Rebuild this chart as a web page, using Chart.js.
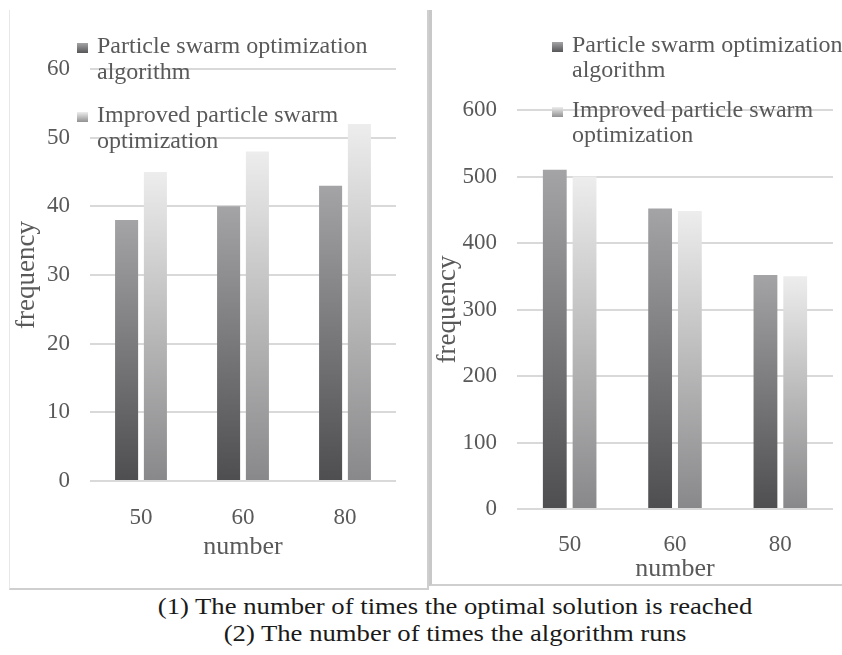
<!DOCTYPE html>
<html>
<head>
<meta charset="utf-8">
<script src="https://cdn.jsdelivr.net/npm/chart.js@4.4.1/dist/chart.umd.min.js"></script>
<style>
  body { margin: 0; background: #fff; width: 842px; height: 655px; position: relative; overflow: hidden; }
  .panel { position: absolute; box-sizing: border-box; }
  #panelL { left: 9px; top: 10px; width: 420px; height: 580px; border-left: 1px solid #e8e8e8; border-right: 2px solid #cfcfcf; border-bottom: 2px solid #cfcfcf; }
  #panelR { left: 429px; top: 10px; width: 420px; height: 576px; border-left: 3px solid #c8c8c8; border-bottom: 2px solid #cfcfcf; }
  canvas { position: absolute; }
  #chartL { left: 11px; top: 11px; }
  #chartR { left: 432px; top: 11px; }
  .caption { position: absolute; left: 0; width: 910px; text-align: center; font-family: "Liberation Serif", "Times New Roman", serif; font-size: 23px; color: #1a1a1a; transform: scaleX(1.16); transform-origin: 455px 0; white-space: nowrap; }
</style>
</head>
<body>
<div class="panel" id="panelL"></div>
<div class="panel" id="panelR"></div>
<canvas id="chartL" width="415" height="576"></canvas>
<canvas id="chartR" width="410" height="574"></canvas>
<div class="caption" style="top:594px">(1) The number of times the optimal solution is reached</div>
<div class="caption" style="top:621px">(2) The number of times the algorithm runs</div>
<script>
// data
const categories = ['50', '60', '80'];
const seriesNames = ['Particle swarm optimization algorithm', 'Improved particle swarm optimization'];
const optimalPSO = [38, 40, 43];
const optimalIPSO = [45, 48, 52];
const runsPSO = [510, 452, 352];
const runsIPSO = [500, 448, 350];

const serif = "'Liberation Serif', 'Times New Roman', serif";
const textGray = '#595959';
const darkStops = ['#4e4e50', '#a4a4a7'];
const lightStops = ['#88888a', '#ededed'];

// vertical gradient per bar, dark at the base and light at the top
function barFill(stops) {
  return function (c) {
    const chart = c.chart;
    if (!chart.chartArea || c.type !== 'data') return stops[0];
    const y = chart.scales.y;
    const g = chart.ctx.createLinearGradient(0, y.getPixelForValue(0), 0, y.getPixelForValue(c.raw));
    g.addColorStop(0, stops[0]);
    g.addColorStop(1, stops[1]);
    return g;
  };
}

// legend with wrapped labels drawn over the plot
const wrapLegend = {
  id: 'wrapLegend',
  afterDraw(chart, args, opts) {
    const ctx = chart.ctx;
    ctx.save();
    ctx.font = '24px ' + serif;
    ctx.fillStyle = textGray;
    ctx.textBaseline = 'alphabetic';
    let y = opts.y;
    chart.data.datasets.forEach(ds => {
      const words = ds.label.split(' ');
      const lines = [];
      let line = '';
      words.forEach(w => {
        const t = line ? line + ' ' + w : w;
        if (ctx.measureText(t).width > opts.maxWidth && line) { lines.push(line); line = w; }
        else line = t;
      });
      lines.push(line);
      const g = ctx.createLinearGradient(0, y + 1, 0, y - 10);
      g.addColorStop(0, ds.stops[0]);
      g.addColorStop(1, ds.stops[1]);
      ctx.fillStyle = g;
      ctx.fillRect(opts.x, y - 10, 11, 10);
      ctx.fillStyle = textGray;
      lines.forEach((l, i) => ctx.fillText(l, opts.x + 20, y + i * opts.lineGap));
      y += opts.itemGap;
    });
    ctx.restore();
  }
};

function makeChart(id, a, b, yMax, step, lay) {
  return new Chart(document.getElementById(id), {
    type: 'bar',
    data: {
      labels: categories,
      datasets: [
        { label: seriesNames[0], data: a, stops: darkStops, backgroundColor: barFill(darkStops),
          categoryPercentage: 0.565, barPercentage: 0.8 },
        { label: seriesNames[1], data: b, stops: lightStops, backgroundColor: barFill(lightStops),
          categoryPercentage: 0.565, barPercentage: 0.8 }
      ]
    },
    plugins: [wrapLegend],
    options: {
      responsive: false,
      animation: false,
      layout: { padding: lay.padding },
      scales: {
        x: {
          grid: { display: false },
          border: { display: false },
          ticks: { color: textGray, font: { family: serif, size: 23 }, padding: lay.xTickPad },
          title: { display: true, text: 'number', color: textGray, font: { family: serif, size: 26 }, padding: 0 },
          afterFit: s => { s.height = lay.xHeight; }
        },
        y: {
          min: 0, max: yMax,
          grid: { color: '#d9d9d9', lineWidth: 2, drawTicks: false },
          border: { display: false },
          ticks: { stepSize: step, color: textGray, font: { family: serif, size: 23 }, padding: 20 },
          title: { display: true, text: 'frequency', color: textGray, font: { family: serif, size: 27 }, padding: { top: 0, bottom: 0 } },
          afterFit: s => { s.width = lay.yWidth; }
        }
      },
      plugins: {
        legend: { display: false },
        tooltip: { enabled: false },
        wrapLegend: lay.legend
      }
    }
  });
}

makeChart('chartL', optimalPSO, optimalIPSO, 60, 10, {
  padding: { left: 0, top: 58, right: 30, bottom: 24 },
  xHeight: 82, yWidth: 79, xTickPad: 15,
  legend: { x: 66, y: 42, lineGap: 26, itemGap: 69, maxWidth: 280 }
});

makeChart('chartR', runsPSO, runsIPSO, 600, 100, {
  padding: { left: 0, top: 99, right: 9, bottom: 0 },
  xHeight: 76, yWidth: 85, xTickPad: 14,
  legend: { x: 120, y: 41, lineGap: 25, itemGap: 65, maxWidth: 280 }
});
</script>
</body>
</html>
